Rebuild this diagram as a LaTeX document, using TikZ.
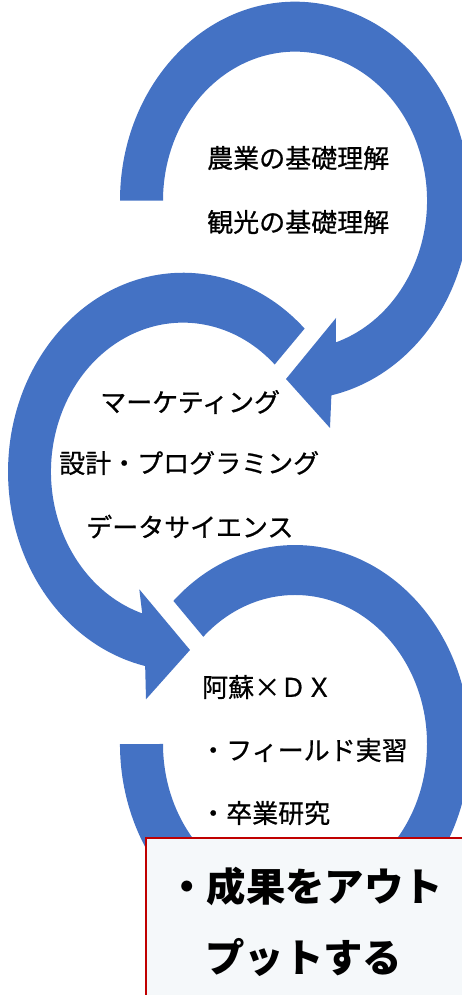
\documentclass[tikz,border=0pt]{standalone}
\usepackage{fontspec}
\newfontfamily\jp{Noto Sans CJK JP}
\newfontfamily\jpm{Noto Sans CJK JP}[FakeBold=0.7]
\definecolor{arrowblue}{HTML}{4472C4}
\definecolor{boxfill}{HTML}{F5F8FA}
\definecolor{boxred}{HTML}{C00000}
\tikzset{
  ring/.style={fill=arrowblue, draw=none},
  label26/.style={font=\jpm\fontsize{26}{26}\selectfont, anchor=west, inner sep=0pt, text height=22.9pt, text depth=3.1pt},
  label39/.style={font=\jp\bfseries\fontsize{39.4}{39.4}\selectfont, anchor=west, inner sep=0pt, text height=34.7pt, text depth=4.7pt},
  outbox/.style={fill=boxfill, draw=boxred, line width=1.5pt}
}
\begin{document}
\begin{tikzpicture}[x=1pt,y=1pt]
\useasboundingbox (0,0) rectangle (462,995);
\clip (0,0) rectangle (462,995);
% arrow 3 (bottom ring)
\fill[ring] (173.4,394.1) arc[start angle=134, end angle=-180, x radius=175, y radius=199]
  -- (163,251) arc[start angle=-180, end angle=134, x radius=132, y radius=149] -- cycle;
% arrow 1 (top)
\fill[ring] (120,794.3) arc[start angle=180, end angle=-78, x radius=175, y radius=199]
  -- (330,567) -- (286,616) -- (336,677)
  -- (335.8,652.6) arc[start angle=-72, end angle=180, x radius=132, y radius=149] -- cycle;
% arrow 2 (middle)
\fill[ring] (304.6,666.4) arc[start angle=46, end angle=257.5, x radius=175, y radius=199]
  -- (146,295.7) -- (190,345) -- (139.3,405.7)
  -- (142.2,381.6) arc[start angle=252, end angle=46, x radius=132, y radius=149] -- cycle;
% texts
\node[label26] (t1) at (207,837) {農業の基礎理解};
\node[label26] (t2) at (207,773) {観光の基礎理解};
\node[label26] (t3) at (100,593) {マーケティング};
\node[label26] (t4) at (59,532) {設計・プログラミング};
\node[label26] (t5) at (86,468) {データサイエンス};
\node[label26] (t6) at (202,308) {阿蘇×ＤＸ};
\node[label26] (t7) at (200,245) {・フィールド実習};
\node[label26] (t8) at (200,182) {・卒業研究};
% output box
\draw[outbox] (146,157) rectangle (475,-10);
\node[label39] (b1) at (167,108) {・成果をアウト};
\node[label39] (b2) at (205,38) {プットする};
\end{tikzpicture}
\end{document}
